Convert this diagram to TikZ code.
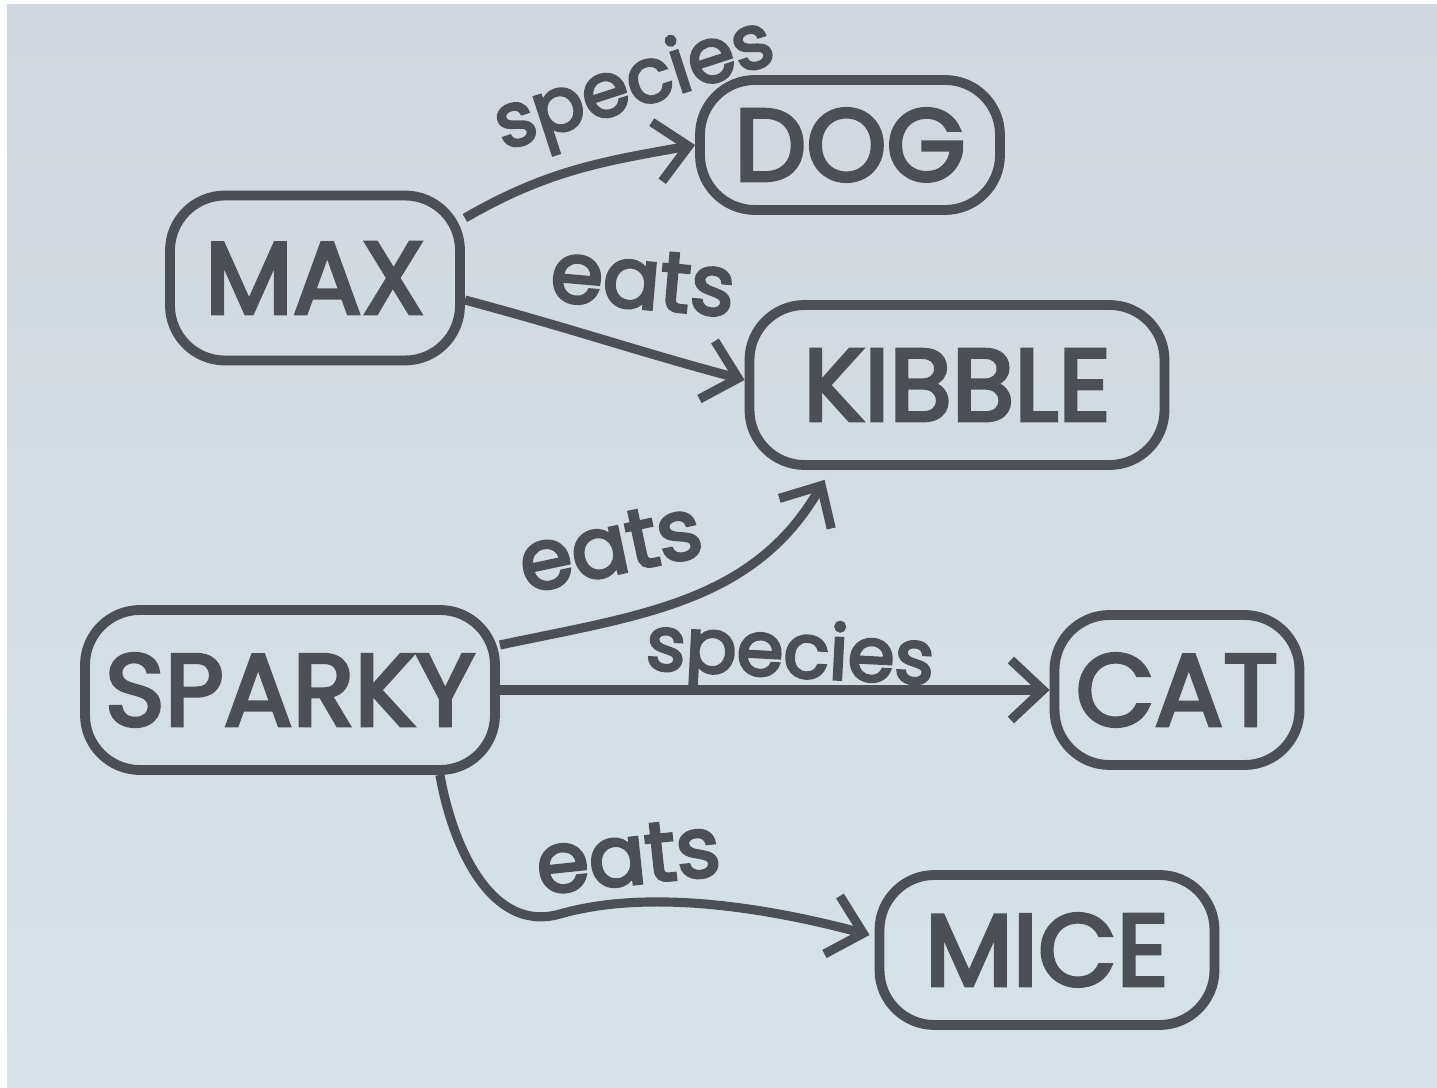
\documentclass[tikz,border=0pt]{standalone}
\usepackage{fontspec}
\setmainfont{Poppins}
\newfontfamily\markerfont{Poppins}[FakeBold=3.5]
\usepackage{tikz}
\usetikzlibrary{arrows.meta, positioning}
\definecolor{inkgray}{RGB}{76, 80, 86}
\definecolor{papertop}{RGB}{209, 215, 222}
\definecolor{paperbottom}{RGB}{214, 226, 232}

\begin{document}
\begin{tikzpicture}[
    thing/.style={draw=inkgray, line width=2.8pt, rounded corners=0.55cm, inner sep=0pt, text=inkgray, font=\markerfont\fontsize{29}{29}\selectfont},
    rel/.style={draw=inkgray, line width=2.6pt, -{Straight Barb[length=3.2mm, width=6mm, line width=2.6pt]}},
    tag/.style={text=inkgray, font=\markerfont\fontsize{24}{24}\selectfont},
    kindtag/.style={tag, font=\markerfont\fontsize{21.5}{21.5}\selectfont},
]
    % Paper
    \useasboundingbox (0,0) rectangle (14.37,10.88);
    \fill[white] (0,0) rectangle (14.37,10.88);
    \shade[top color=papertop, bottom color=paperbottom] (0.07,0) rectangle (14.37,10.83);

    % Things
    \node[thing, minimum width=2.9cm, minimum height=1.65cm] (max) at (3.15,8.10) {MAX};
    \node[thing, minimum width=3.0cm, minimum height=1.3cm] (dog) at (8.50,9.43) {DOG};
    \node[thing, minimum width=4.15cm, minimum height=1.6cm] (kibble) at (9.57,7.03) {KIBBLE};
    \node[thing, minimum width=4.1cm, minimum height=1.6cm] (sparky) at (2.90,3.98) {SPARKY};
    \node[thing, minimum width=2.45cm, minimum height=1.5cm] (cat) at (11.77,3.98) {CAT};
    \node[thing, minimum width=3.35cm, minimum height=1.5cm] (mice) at (10.47,1.38) {MICE};

    % Relations
    \draw[rel] ([yshift=0.6cm]max.east) to[out=30, in=190] (dog.west);
    \draw[rel] ([yshift=-0.22cm]max.east) to[out=-15, in=165] ([yshift=0.05cm]kibble.west);
    \draw[rel] ([yshift=0.45cm]sparky.east) to[out=12, in=240] ([xshift=0.8cm, yshift=-0.1cm]kibble.south west);
    \draw[rel] (sparky.east) -- (cat.west);
    \draw[rel] ([xshift=-0.6cm]sparky.south east) to[out=-80, in=196] (5.6,1.74)
        .. controls (6.4,1.97) and (7.5,1.85) .. ([xshift=-0.05cm, yshift=0.15cm]mice.west);

    % Labels
    \node[kindtag, rotate=18] (speciesdog) at (6.35,10.0) {species};
    \node[tag, rotate=-5] (eatsmax) at (6.43,8.08) {eats};
    \node[tag, rotate=12] (eatssparky) at (6.10,5.42) {eats};
    \node[kindtag, rotate=-3] (speciescat) at (7.90,4.30) {species};
    \node[tag, rotate=6] (eatsmice) at (6.28,2.32) {eats};
\end{tikzpicture}
\end{document}
